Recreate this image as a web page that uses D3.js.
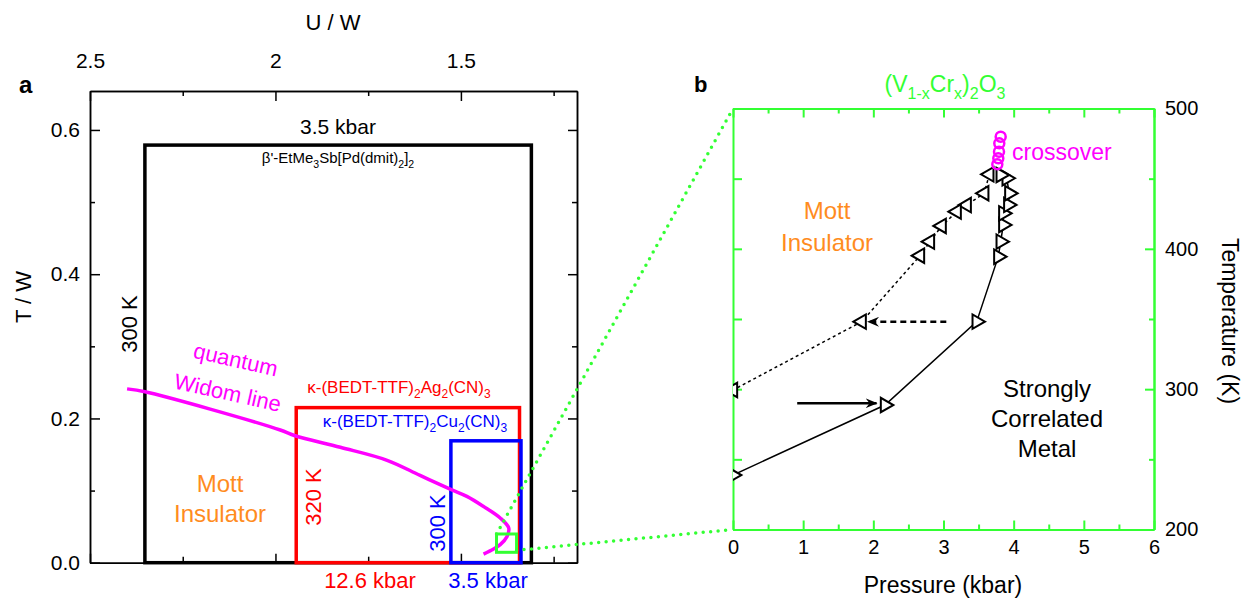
<!DOCTYPE html>
<html>
<head>
<meta charset="UTF-8">
<title>Mott phase diagram</title>
<script src="https://d3js.org/d3.v7.min.js"></script>
<style>
  body { margin: 0; background: #fff; }
  svg { font-family: "Liberation Sans", Arial, sans-serif; }
</style>
</head>
<body>
<svg width="1244" height="601"></svg>
<script>
  // ---- panel a : U/W vs T/W ----
  const uwMajor = [2.5, 2, 1.5]
  const uwMinor = [2.25, 1.75, 1.25]
  const twMajor = [0, 0.2, 0.4, 0.6]
  const twMinor = [0.1, 0.3, 0.5]

  // quantum Widom line
  const widomU = [2.400, 2.352, 2.176, 1.987, 1.947, 1.825, 1.699, 1.610, 1.529, 1.484, 1.439, 1.394, 1.371, 1.376, 1.394, 1.412, 1.439]
  const widomT = [0.241, 0.237, 0.213, 0.184, 0.176, 0.160, 0.142, 0.121, 0.102, 0.092, 0.078, 0.062, 0.048, 0.036, 0.025, 0.019, 0.012]

  // measured ranges of the three organic salts
  const sampleUHigh = [2.352, 1.944, 1.527]
  const sampleULow = [1.310, 1.342, 1.338]
  const sampleTTop = [0.579, 0.215, 0.169]
  const samplePressure = ['3.5 kbar', '12.6 kbar', '3.5 kbar']
  const sampleTemp = ['300 K', '320 K', '300 K']

  // V2O3 window (green square)
  const zoomU = [1.404, 1.350]
  const zoomT = [0.0144, 0.0398]

  // ---- panel b : pressure vs temperature ----
  const pMajor = [0, 1, 2, 3, 4, 5, 6]
  const pMinor = [0.5, 1.5, 2.5, 3.5, 4.5, 5.5]
  const kMajor = [200, 300, 400, 500]
  const kMinor = [250, 350, 450]

  const crossP = [3.815, 3.795, 3.791, 3.781, 3.767]
  const crossT = [479.9, 475.2, 469.2, 464.5, 460.2]

  // insulator -> metal (solid, right triangles)
  const upP = [0, 2.166, 3.473, 3.781, 3.815, 3.852, 3.852, 3.923, 3.938, 3.900, 3.815]
  const upT = [238.8, 288.7, 348.1, 394.4, 405.1, 417.0, 425.3, 431.3, 439.6, 450.3, 452.6]
  // metal -> insulator (dotted, left triangles)
  const downP = [3.653, 3.581, 3.331, 3.188, 2.974, 2.807, 2.665, 1.834, 0]
  const downT = [453.1, 439.6, 431.2, 426.5, 416.3, 405.1, 395.1, 348.1, 299.4]

  const arrowFromP = [3.04, 0.915]
  const arrowToP = [1.925, 2.046]
  const arrowT = [348, 290]

  const green = '#33ff33'
  const magenta = '#ff00ff'
  const orange = '#ff8c1e'
  const boxColors = ['#000', '#ff0000', '#0000ff']

  const svg = d3.select('svg')

  // text with subscripts, parts = [[text, isSub], ...]
  function rich(sel, parts, size, subSize) {
    let prevSub = false
    const shift = Math.round(size * 0.3)
    parts.forEach(([t, s]) => {
      const ts = sel.append('tspan').text(t)
        .attr('font-size', s ? subSize : size)
      if (s && !prevSub) ts.attr('dy', shift)
      if (!s && prevSub) ts.attr('dy', -shift)
      prevSub = s
    })
    return sel
  }

  // ================= panel a =================
  const xA = d3.scaleLinear().domain([2.5, 1.187]).range([90, 577])
  const yA = d3.scaleLinear().domain([0, 0.654]).range([562.7, 91])

  const axA = svg.append('g')
  function styleAxis(g, col, w) {
    g.selectAll('.domain').attr('stroke', col).attr('stroke-width', w)
    g.selectAll('.tick line').attr('stroke', col).attr('stroke-width', w)
    g.selectAll('.tick text').attr('fill', '#000')
    g.attr('font-family', null).attr('font-size', null)
  }

  axA.append('g').attr('transform', 'translate(0,91)')
    .call(d3.axisTop(xA).tickValues(uwMajor).tickSize(-10).tickSizeOuter(0).tickPadding(23).tickFormat(d3.format('')))
    .call(g => styleAxis(g, '#000', 1.5))
    .selectAll('text').attr('font-size', 21)
  axA.append('g').attr('transform', 'translate(0,91)')
    .call(d3.axisTop(xA).tickValues(uwMinor).tickSize(-5).tickSizeOuter(0).tickFormat(''))
    .call(g => styleAxis(g, '#000', 1.5))
  axA.append('g').attr('transform', 'translate(0,562.7)')
    .call(d3.axisBottom(xA).tickValues(uwMajor).tickSize(-9).tickSizeOuter(0).tickFormat(''))
    .call(g => styleAxis(g, '#000', 1.5))
  axA.append('g').attr('transform', 'translate(0,562.7)')
    .call(d3.axisBottom(xA).tickValues(uwMinor).tickSize(-6).tickSizeOuter(0).tickFormat(''))
    .call(g => styleAxis(g, '#000', 1.5))
  axA.append('g').attr('transform', 'translate(90,0)')
    .call(d3.axisLeft(yA).tickValues(twMajor).tickSize(-10).tickSizeOuter(0).tickPadding(10).tickFormat(d3.format('.1f')))
    .call(g => styleAxis(g, '#000', 1.5))
    .selectAll('text').attr('font-size', 21)
  axA.append('g').attr('transform', 'translate(90,0)')
    .call(d3.axisLeft(yA).tickValues(twMinor).tickSize(-5).tickSizeOuter(0).tickFormat(''))
    .call(g => styleAxis(g, '#000', 1.5))
  axA.append('g').attr('transform', 'translate(577,0)')
    .call(d3.axisRight(yA).tickValues(twMajor).tickSize(-9).tickSizeOuter(0).tickFormat(''))
    .call(g => styleAxis(g, '#000', 1.5))
  axA.append('g').attr('transform', 'translate(577,0)')
    .call(d3.axisRight(yA).tickValues(twMinor).tickSize(-5).tickSizeOuter(0).tickFormat(''))
    .call(g => styleAxis(g, '#000', 1.5))

  svg.append('text').attr('x', 333).attr('y', 30).attr('text-anchor', 'middle')
    .attr('font-size', 22).text('U / W')
  svg.append('text').attr('transform', 'translate(31,297) rotate(-90)').attr('text-anchor', 'middle')
    .attr('font-size', 22).text('T / W')
  svg.append('text').attr('x', 19).attr('y', 93).attr('font-size', 24)
    .attr('font-weight', 'bold').text('a')

  // sample boxes
  const boxG = svg.append('g')
  boxG.selectAll('rect')
    .data(sampleUHigh)
    .join('rect')
    .attr('x', (d, i) => xA(d))
    .attr('y', (d, i) => yA(sampleTTop[i]))
    .attr('width', (d, i) => xA(sampleULow[i]) - xA(d))
    .attr('height', (d, i) => yA(0) - yA(sampleTTop[i]))
    .attr('fill', 'none')
    .attr('stroke', (d, i) => boxColors[i])
    .attr('stroke-width', 3.5)

  // widom line
  const widom = widomU.map((u, i) => [xA(u), yA(widomT[i])])
  svg.append('path')
    .attr('d', d3.line().curve(d3.curveCatmullRom)(widom))
    .attr('fill', 'none').attr('stroke', magenta).attr('stroke-width', 3.5)

  // green window
  svg.append('rect')
    .attr('x', xA(zoomU[0])).attr('y', yA(zoomT[1]))
    .attr('width', xA(zoomU[1]) - xA(zoomU[0]))
    .attr('height', yA(zoomT[0]) - yA(zoomT[1]))
    .attr('fill', 'none').attr('stroke', green).attr('stroke-width', 3)

  // annotations panel a
  svg.append('text').attr('x', 338).attr('y', 134).attr('text-anchor', 'middle')
    .attr('font-size', 21).text(samplePressure[0])
  rich(svg.append('text').attr('x', 338).attr('y', 163).attr('text-anchor', 'middle'),
    [["β'-EtMe", false], ['3', true], ['Sb[Pd(dmit)', false], ['2', true], [']', false], ['2', true]], 15, 10.5)
  svg.append('text').attr('transform', 'translate(137,324) rotate(-90)').attr('text-anchor', 'middle')
    .attr('font-size', 22).text(sampleTemp[0])

  rich(svg.append('text').attr('x', 399).attr('y', 393).attr('text-anchor', 'middle').attr('fill', boxColors[1]),
    [['κ-(BEDT-TTF)', false], ['2', true], ['Ag', false], ['2', true], ['(CN)', false], ['3', true]], 17, 12)
  rich(svg.append('text').attr('x', 415).attr('y', 427).attr('text-anchor', 'middle').attr('fill', boxColors[2]),
    [['κ-(BEDT-TTF)', false], ['2', true], ['Cu', false], ['2', true], ['(CN)', false], ['3', true]], 17, 12)
  svg.append('text').attr('transform', 'translate(321,497) rotate(-90)').attr('text-anchor', 'middle')
    .attr('font-size', 22).attr('fill', boxColors[1]).text(sampleTemp[1])
  svg.append('text').attr('transform', 'translate(445,523) rotate(-90)').attr('text-anchor', 'middle')
    .attr('font-size', 22).attr('fill', boxColors[2]).text(sampleTemp[2])
  svg.append('text').attr('x', 370).attr('y', 588).attr('text-anchor', 'middle')
    .attr('font-size', 22).attr('fill', boxColors[1]).text(samplePressure[1])
  svg.append('text').attr('x', 488).attr('y', 588).attr('text-anchor', 'middle')
    .attr('font-size', 22).attr('fill', boxColors[2]).text(samplePressure[2])

  svg.append('text').attr('transform', 'translate(234,367) rotate(12.7)').attr('text-anchor', 'middle')
    .attr('font-size', 22).attr('fill', magenta).text('quantum')
  svg.append('text').attr('transform', 'translate(226,400) rotate(12.5)').attr('text-anchor', 'middle')
    .attr('font-size', 22).attr('fill', magenta).text('Widom line')

  const mottA = svg.append('text').attr('text-anchor', 'middle').attr('font-size', 24).attr('fill', orange)
  mottA.append('tspan').attr('x', 220).attr('y', 492).text('Mott')
  mottA.append('tspan').attr('x', 220).attr('y', 522).text('Insulator')

  // ================= panel b =================
  const xB = d3.scaleLinear().domain([0, 6]).range([733, 1154])
  const yB = d3.scaleLinear().domain([200, 500]).range([529.5, 108.5])

  // green dotted connectors
  const conn = [
    [[xA(zoomU[0]), yA(zoomT[1])], [xB(0), yB(500)]],
    [[xA(zoomU[1]), yA(zoomT[0]) - 2], [xB(0), yB(200)]]
  ]
  svg.append('g').selectAll('line')
    .data(conn)
    .join('line')
    .attr('x1', d => d[0][0]).attr('y1', d => d[0][1])
    .attr('x2', d => d[1][0]).attr('y2', d => d[1][1])
    .attr('stroke', green).attr('stroke-width', 3.5)
    .attr('stroke-linecap', 'round').attr('stroke-dasharray', '0,7.5')

  const axB = svg.append('g')
  axB.append('g').attr('transform', 'translate(0,529.5)')
    .call(d3.axisBottom(xB).tickValues(pMajor).tickSize(-9).tickSizeOuter(0).tickPadding(10).tickFormat(d3.format('d')))
    .call(g => styleAxis(g, green, 2))
    .selectAll('text').attr('font-size', 20)
  axB.append('g').attr('transform', 'translate(0,529.5)')
    .call(d3.axisBottom(xB).tickValues(pMinor).tickSize(-5).tickSizeOuter(0).tickFormat(''))
    .call(g => styleAxis(g, green, 2))
  axB.append('g').attr('transform', 'translate(0,108.5)')
    .call(d3.axisTop(xB).tickValues(pMajor).tickSize(-9).tickSizeOuter(0).tickFormat(''))
    .call(g => styleAxis(g, green, 2))
  axB.append('g').attr('transform', 'translate(0,108.5)')
    .call(d3.axisTop(xB).tickValues(pMinor).tickSize(-5).tickSizeOuter(0).tickFormat(''))
    .call(g => styleAxis(g, green, 2))
  axB.append('g').attr('transform', 'translate(733,0)')
    .call(d3.axisLeft(yB).tickValues(kMajor.concat(kMinor)).tickSize(-9).tickSizeOuter(0).tickFormat(''))
    .call(g => styleAxis(g, green, 2))
  axB.append('g').attr('transform', 'translate(1154,0)')
    .call(d3.axisRight(yB).tickValues(kMajor).tickSize(-9).tickSizeOuter(0).tickPadding(11).tickFormat(d3.format('d')))
    .call(g => styleAxis(g, green, 2))
    .selectAll('text').attr('font-size', 20)
  axB.append('g').attr('transform', 'translate(1154,0)')
    .call(d3.axisRight(yB).tickValues(kMinor).tickSize(-5).tickSizeOuter(0).tickFormat(''))
    .call(g => styleAxis(g, green, 2))

  svg.append('text').attr('x', 943).attr('y', 593).attr('text-anchor', 'middle')
    .attr('font-size', 23).text('Pressure (kbar)')
  svg.append('text').attr('transform', 'translate(1222,321) rotate(90)').attr('text-anchor', 'middle')
    .attr('font-size', 23).text('Temperature (K)')
  svg.append('text').attr('x', 694).attr('y', 92).attr('font-size', 22)
    .attr('font-weight', 'bold').text('b')
  rich(svg.append('text').attr('x', 945).attr('y', 92).attr('text-anchor', 'middle').attr('fill', green),
    [['(V', false], ['1-x', true], ['Cr', false], ['x', true], [')', false], ['2', true], ['O', false], ['3', true]], 23, 16)

  // clip for data
  svg.append('clipPath').attr('id', 'clipB')
    .append('rect').attr('x', 733).attr('y', 108.5).attr('width', 421).attr('height', 421)
  const plotB = svg.append('g').attr('clip-path', 'url(#clipB)')

  const upPts = upP.map((p, i) => [xB(p), yB(upT[i])])
  const downPts = downP.map((p, i) => [xB(p), yB(downT[i])])
  plotB.append('path').attr('d', d3.line()(upPts))
    .attr('fill', 'none').attr('stroke', '#000').attr('stroke-width', 1.5)
  plotB.append('path').attr('d', d3.line()(downPts))
    .attr('fill', 'none').attr('stroke', '#000').attr('stroke-width', 1.5)
    .attr('stroke-dasharray', '3,3')

  const tri = d3.symbol().type(d3.symbolTriangle).size(90)
  plotB.append('g').selectAll('path')
    .data(upPts)
    .join('path')
    .attr('d', tri)
    .attr('transform', d => `translate(${d[0]},${d[1]}) rotate(90)`)
    .attr('fill', '#fff').attr('stroke', '#000').attr('stroke-width', 2)
  plotB.append('g').selectAll('path')
    .data(downPts)
    .join('path')
    .attr('d', tri)
    .attr('transform', d => `translate(${d[0]},${d[1]}) rotate(-90)`)
    .attr('fill', '#fff').attr('stroke', '#000').attr('stroke-width', 2)

  plotB.append('g').selectAll('circle')
    .data(crossP)
    .join('circle')
    .attr('cx', d => xB(d))
    .attr('cy', (d, i) => yB(crossT[i]))
    .attr('r', 5)
    .attr('fill', 'none').attr('stroke', magenta).attr('stroke-width', 2.5)

  // arrows
  svg.append('defs').append('marker')
    .attr('id', 'head').attr('viewBox', '0 0 12 10').attr('refX', 11).attr('refY', 5)
    .attr('markerWidth', 12).attr('markerHeight', 10).attr('markerUnits', 'userSpaceOnUse')
    .attr('orient', 'auto')
    .append('path').attr('d', 'M0,0 L12,5 L0,10 L4,5 Z').attr('fill', '#000')
  plotB.append('g').selectAll('line')
    .data(arrowT)
    .join('line')
    .attr('x1', (d, i) => xB(arrowFromP[i])).attr('x2', (d, i) => xB(arrowToP[i]))
    .attr('y1', d => yB(d)).attr('y2', d => yB(d))
    .attr('stroke', '#000').attr('stroke-width', 2.5)
    .attr('stroke-dasharray', (d, i) => i === 0 ? '6,4' : null)
    .attr('marker-end', 'url(#head)')

  // annotations panel b
  svg.append('text').attr('x', 1012).attr('y', 160).attr('font-size', 23)
    .attr('fill', magenta).text('crossover')
  const mottB = svg.append('text').attr('text-anchor', 'middle').attr('font-size', 24).attr('fill', orange)
  mottB.append('tspan').attr('x', 827).attr('y', 219).text('Mott')
  mottB.append('tspan').attr('x', 827).attr('y', 251).text('Insulator')
  const metal = svg.append('text').attr('text-anchor', 'middle').attr('font-size', 24)
  metal.append('tspan').attr('x', 1047).attr('y', 397).text('Strongly')
  metal.append('tspan').attr('x', 1047).attr('y', 427).text('Correlated')
  metal.append('tspan').attr('x', 1047).attr('y', 457).text('Metal')
</script>
</body>
</html>
